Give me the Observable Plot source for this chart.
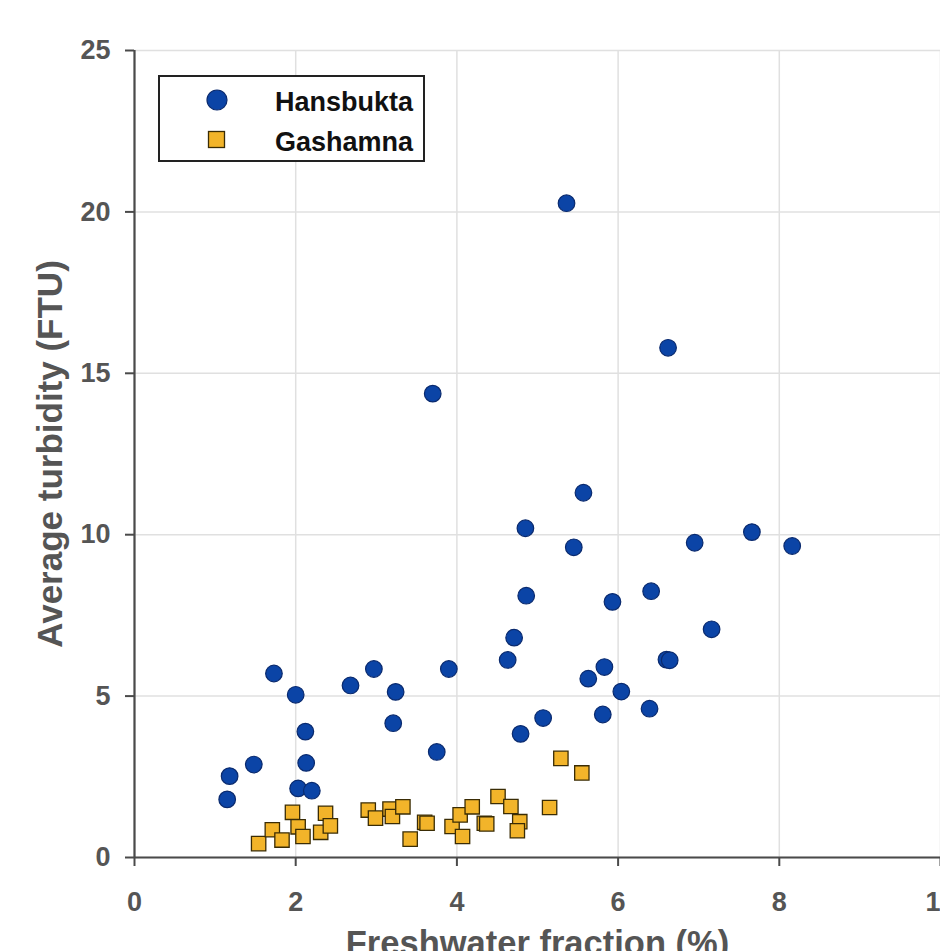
<!DOCTYPE html>
<html>
<head>
<meta charset="utf-8">
<script src="https://cdn.jsdelivr.net/npm/d3@7"></script>
<script src="https://cdn.jsdelivr.net/npm/@observablehq/plot@0.6"></script>
<style>
  html, body { margin: 0; padding: 0; background: #fff; }
  #wrap { position: relative; width: 940px; height: 951px; overflow: hidden; font-family: "Liberation Sans", Arial, sans-serif; }
  #legend { position: absolute; left: 158px; top: 75px; width: 263px; height: 83px; border: 2px solid #222; background: #fff; }
  .row { position: absolute; left: 0; width: 100%; height: 40px; }
  .lab { position: absolute; right: 10px; font-size: 27px; font-weight: bold; color: #111; line-height: 1; }
  .mk { position: absolute; }
</style>
</head>
<body>
<div id="wrap">
  <div id="chart"></div>
  <div id="legend">
    <div class="row" style="top:0">
      <svg class="mk" style="left:45px;top:11px" width="24" height="24"><circle cx="12" cy="12" r="10" fill="#0b44a6" stroke="#0a2a6e" stroke-width="1.2"/></svg>
      <span class="lab" style="top:12px">Hansbukta</span>
    </div>
    <div class="row" style="top:40px">
      <svg class="mk" style="left:47px;top:13px" width="20" height="20"><rect x="1.5" y="1.5" width="16" height="16" fill="#f2b42a" stroke="#3a2c05" stroke-width="1.3"/></svg>
      <span class="lab" style="top:12px">Gashamna</span>
    </div>
  </div>
</div>
<script>
const seriesNames = ["Hansbukta", "Gashamna"];
const hansX = [5.36, 6.62, 3.70, 5.57, 4.85, 5.45, 7.66, 6.95, 8.16, 4.86, 5.93, 6.41, 4.71, 4.63, 7.16, 6.60, 6.64, 5.83, 5.63, 6.04, 5.81, 6.39, 5.07, 4.79, 3.75, 3.90, 2.97, 2.68, 3.24, 3.21, 1.73, 2.00, 2.12, 2.13, 1.48, 1.18, 1.15, 2.03, 2.20];
const hansY = [20.27, 15.79, 14.37, 11.30, 10.20, 9.61, 10.08, 9.75, 9.65, 8.11, 7.92, 8.25, 6.81, 6.12, 7.07, 6.13, 6.11, 5.90, 5.54, 5.14, 4.43, 4.61, 4.32, 3.83, 3.27, 5.84, 5.84, 5.33, 5.13, 4.16, 5.70, 5.04, 3.90, 2.93, 2.88, 2.52, 1.80, 2.14, 2.07];
const gashX = [1.54, 1.71, 1.83, 1.96, 2.03, 2.09, 2.31, 2.37, 2.43, 2.90, 2.99, 3.17, 3.20, 3.33, 3.42, 3.60, 3.63, 3.94, 4.04, 4.07, 4.19, 4.34, 4.37, 4.51, 4.67, 4.78, 4.75, 5.15, 5.29, 5.55];
const gashY = [0.43, 0.86, 0.54, 1.40, 0.95, 0.65, 0.78, 1.37, 0.98, 1.47, 1.22, 1.50, 1.27, 1.57, 0.57, 1.09, 1.06, 0.96, 1.32, 0.65, 1.57, 1.06, 1.04, 1.89, 1.58, 1.11, 0.83, 1.55, 3.07, 2.62];
const xTicks = [0, 2, 4, 6, 8, 10];
const yTicks = [0, 5, 10, 15, 20, 25];
const xTitle = "Freshwater fraction (%)";
const yTitle = "Average turbidity (FTU)";

const hans = hansX.map((x, i) => ({x, y: hansY[i], s: seriesNames[0]}));
const gash = gashX.map((x, i) => ({x, y: gashY[i], s: seriesNames[1]}));

const axisColor = "#4a4a4a";
const tickText = "#555";

const plot = Plot.plot({
  width: 940,
  height: 951,
  marginLeft: 134,
  marginRight: 0,
  marginTop: 50,
  marginBottom: 94,
  style: {fontFamily: "'Liberation Sans', Arial, sans-serif", background: "#fff", overflow: "visible"},
  x: {domain: [0, 10], ticks: xTicks, label: null},
  y: {domain: [0, 25], ticks: yTicks, label: null},
  marks: [
    Plot.gridX(xTicks, {stroke: "#e0e0e0", strokeOpacity: 1, strokeWidth: 1.5}),
    Plot.gridY(yTicks, {stroke: "#e0e0e0", strokeOpacity: 1, strokeWidth: 1.5}),
    Plot.ruleY([0], {stroke: axisColor, strokeWidth: 2.2}),
    Plot.ruleX([0], {stroke: axisColor, strokeWidth: 2.2}),
    Plot.axisX(xTicks, {tickSize: 9, tickPadding: 25, stroke: axisColor, strokeWidth: 2, fill: tickText, fontSize: 27, fontWeight: "bold", label: null, tickFormat: d => String(d)}),
    Plot.axisY(yTicks, {tickSize: 9, tickPadding: 15, stroke: axisColor, strokeWidth: 2, fill: tickText, fontSize: 27, fontWeight: "bold", label: null, tickFormat: d => String(d)}),
    Plot.dot(hans, {x: "x", y: "y", r: 8.3, fill: "#0b44a6", stroke: "#0a2a6e", strokeWidth: 1.2}),
    Plot.dot(gash, {x: "x", y: "y", symbol: "square", r: 8.1, fill: "#f2b42a", stroke: "#3a2c05", strokeWidth: 1.3}),
    Plot.text([xTitle], {frameAnchor: "bottom", textAnchor: "middle", dy: 97, fontSize: 34.5, fontWeight: "bold", fill: tickText, text: d => d}),
    Plot.text([yTitle], {frameAnchor: "left", textAnchor: "middle", lineAnchor: "middle", dx: -84, rotate: -90, fontSize: 35, fontWeight: "bold", fill: tickText, text: d => d})
  ]
});
document.getElementById("chart").appendChild(plot);
</script>
</body>
</html>
